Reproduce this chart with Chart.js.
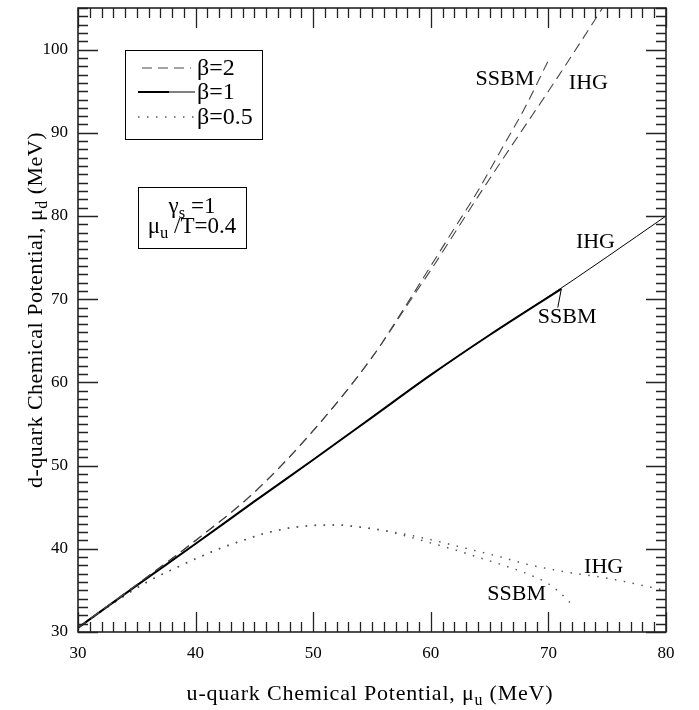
<!DOCTYPE html>
<html>
<head>
<meta charset="utf-8">
<script src="https://cdn.jsdelivr.net/npm/chart.js@4"></script>
<style>
  body { margin: 0; background: #fff; }
  canvas { display: block; }
</style>
</head>
<body>
<canvas id="myChart" width="699" height="710"></canvas>
<script>
// beta = 2 (dashed)
const b2IhgX = [30, 35, 40, 45, 50, 55, 58, 60, 62, 64, 66, 68, 70, 72, 74.6];
const b2IhgY = [30.5, 35.7, 41.0, 46.8, 54.2, 63.0, 69.3, 73.5, 77.9, 82.3, 86.6, 90.8, 95.0, 99.3, 105];
const b2SsbmX = [30, 35, 40, 45, 50, 55, 58, 60, 62, 64, 66, 68, 70.1];
const b2SsbmY = [30.5, 35.7, 41.0, 46.8, 54.2, 63.0, 69.5, 74.0, 78.5, 83.0, 88.0, 93.0, 99.0];

// beta = 1 (solid)
const b1IhgX = [30, 35, 40, 45, 50, 55, 60, 65, 70, 75, 80];
const b1IhgY = [30.5, 35.6, 40.6, 45.7, 50.7, 55.8, 60.9, 65.7, 70.3, 75.1, 80.0];
const b1SsbmX = [30, 35, 40, 45, 50, 55, 60, 65, 71.1];
const b1SsbmY = [30.5, 35.6, 40.6, 45.7, 50.7, 55.8, 60.9, 65.7, 71.25];

// beta = 0.5 (dotted)
const b05IhgX = [30, 32, 34, 36, 38, 40, 42, 44, 46, 48, 50, 52, 54, 56, 58, 60, 62, 64, 66, 68, 70, 72, 74, 76, 78, 80];
const b05IhgY = [30.5, 32.5, 34.4, 36.1, 37.5, 38.8, 40.0, 41.0, 41.9, 42.5, 42.8, 42.85, 42.6, 42.2, 41.7, 41.1, 40.4, 39.7, 39.0, 38.2, 37.6, 37.1, 36.7, 36.2, 35.6, 35.0];
const b05SsbmX = [30, 32, 34, 36, 38, 40, 42, 44, 46, 48, 50, 52, 54, 56, 58, 60, 62, 64, 66, 68, 70, 71, 72];
const b05SsbmY = [30.5, 32.5, 34.4, 36.1, 37.5, 38.8, 40.0, 41.0, 41.9, 42.5, 42.8, 42.85, 42.6, 42.2, 41.5, 40.7, 39.9, 39.0, 38.1, 37.1, 35.8, 34.7, 33.3];

const xTicks = [30, 40, 50, 60, 70, 80];
const yTicks = [30, 40, 50, 60, 70, 80, 90, 100];
const legendLabels = ["β=2", "β=1", "β=0.5"];

// curve labels, placed in data coordinates
const curveLabels = [
  { text: "SSBM", x: 66.3, y: 96.4 },
  { text: "IHG", x: 73.4, y: 95.9 },
  { text: "IHG", x: 74.0, y: 76.9 },
  { text: "SSBM", x: 71.6, y: 67.8 },
  { text: "IHG", x: 74.7, y: 37.8 },
  { text: "SSBM", x: 67.3, y: 34.5 }
];

const SERIF = '"Liberation Serif", "Times New Roman", serif';

function pts(xs, ys) {
  return xs.map((x, i) => ({ x: x, y: ys[i] }));
}

function drawRich(ctx, parts, x, y, size, align, spacing) {
  const subSize = size * 0.72;
  ctx.letterSpacing = (spacing || 0) + "px";
  let w = 0;
  parts.forEach(p => {
    ctx.font = (p[1] ? subSize : size) + "px " + SERIF;
    w += ctx.measureText(p[0]).width;
  });
  let cx = align === "center" ? x - w / 2 : x;
  parts.forEach(p => {
    ctx.font = (p[1] ? subSize : size) + "px " + SERIF;
    ctx.fillText(p[0], cx, p[1] ? y + size * 0.22 : y);
    cx += ctx.measureText(p[0]).width;
  });
  ctx.letterSpacing = "0px";
}

// box, inward ticks on all four sides, legend and labels
const frame = {
  id: "frame",
  afterDraw(chart) {
    const ctx = chart.ctx;
    const a = chart.chartArea;
    const xs = chart.scales.x, ys = chart.scales.y;
    ctx.save();
    ctx.strokeStyle = "#222";
    ctx.lineWidth = 1.3;
    ctx.beginPath();
    for (let v = 30; v <= 80; v++) {
      const len = v % 10 === 0 ? 20 : 10;
      const px = Math.round(xs.getPixelForValue(v)) + 0.5;
      ctx.moveTo(px, a.bottom); ctx.lineTo(px, a.bottom - len);
      ctx.moveTo(px, a.top); ctx.lineTo(px, a.top + len);
    }
    for (let v = 30; v <= 105; v++) {
      const len = v % 10 === 0 ? 20 : 10;
      const py = Math.round(ys.getPixelForValue(v)) + 0.5;
      ctx.moveTo(a.left, py); ctx.lineTo(a.left + len, py);
      ctx.moveTo(a.right, py); ctx.lineTo(a.right - len, py);
    }
    ctx.stroke();
    ctx.lineWidth = 1.6;
    ctx.strokeRect(a.left, a.top, a.right - a.left, a.bottom - a.top);

    // legend box
    ctx.fillStyle = "#000";
    ctx.strokeStyle = "#000";
    ctx.lineWidth = 1;
    ctx.strokeRect(a.left + 47.5, a.top + 42.5, 137, 89);
    const lx0 = a.left + 60, lx1 = a.left + 117;
    const rows = [a.top + 60, a.top + 84, a.top + 109];
    // dashed
    ctx.strokeStyle = "#444";
    ctx.setLineDash([10, 6]);
    ctx.beginPath(); ctx.moveTo(lx0 + 4, rows[0]); ctx.lineTo(lx1 - 4, rows[0]); ctx.stroke();
    // solid: thick part then thin part
    ctx.setLineDash([]);
    ctx.strokeStyle = "#000";
    ctx.lineWidth = 2;
    ctx.beginPath(); ctx.moveTo(lx0, rows[1]); ctx.lineTo(lx0 + 31, rows[1]); ctx.stroke();
    ctx.lineWidth = 1;
    ctx.beginPath(); ctx.moveTo(lx0 + 31, rows[1]); ctx.lineTo(lx1, rows[1]); ctx.stroke();
    // dotted
    ctx.strokeStyle = "#555";
    ctx.lineWidth = 1.5;
    ctx.setLineDash([1.5, 7.5]);
    ctx.beginPath(); ctx.moveTo(lx0, rows[2]); ctx.lineTo(lx1, rows[2]); ctx.stroke();
    ctx.setLineDash([]);
    ctx.font = "24px " + SERIF;
    ctx.textAlign = "left";
    ctx.textBaseline = "alphabetic";
    legendLabels.forEach((t, i) => ctx.fillText(t, lx1 + 2, rows[i] + 7));

    // parameter box
    ctx.lineWidth = 1;
    ctx.strokeStyle = "#000";
    ctx.strokeRect(a.left + 60.5, a.top + 179.5, 108, 61);
    const bx = a.left + 114;
    drawRich(ctx, [["γ", false], ["s", true], [" =1", false]], bx, a.top + 205, 23, "center");
    drawRich(ctx, [["μ", false], ["u", true], [" /T=0.4", false]], bx, a.top + 225, 23, "center");

    // curve labels
    ctx.font = "22px " + SERIF;
    ctx.textAlign = "center";
    ctx.textBaseline = "middle";
    curveLabels.forEach(l => {
      ctx.fillText(l.text, xs.getPixelForValue(l.x), ys.getPixelForValue(l.y));
    });
    // leader from SSBM label to end of beta=1 SSBM curve
    ctx.beginPath();
    ctx.moveTo(xs.getPixelForValue(b1SsbmX[b1SsbmX.length - 1]), ys.getPixelForValue(b1SsbmY[b1SsbmY.length - 1]));
    ctx.lineTo(xs.getPixelForValue(70.8), ys.getPixelForValue(69.0));
    ctx.stroke();

    // axis titles
    ctx.textAlign = "left";
    ctx.textBaseline = "alphabetic";
    drawRich(ctx, [["u-quark Chemical Potential, μ", false], ["u", true], [" (MeV)", false]],
      370, 700, 22, "center", 0.8);
    ctx.save();
    ctx.translate(42, 310);
    ctx.rotate(-Math.PI / 2);
    drawRich(ctx, [["d-quark Chemical Potential, μ", false], ["d", true], [" (MeV)", false]], 0, 0, 22, "center", 0.5);
    ctx.restore();
    ctx.restore();
  }
};

const ctx = document.getElementById("myChart").getContext("2d");
const chart = new Chart(ctx, {
  type: "line",
  data: {
    datasets: [
      { label: "β=2 IHG", data: pts(b2IhgX, b2IhgY), borderColor: "#444", borderWidth: 1.1, borderDash: [10, 6] },
      { label: "β=2 SSBM", data: pts(b2SsbmX, b2SsbmY), borderColor: "#444", borderWidth: 1.1, borderDash: [10, 6] },
      { label: "β=1 IHG", data: pts(b1IhgX, b1IhgY), borderColor: "#000", borderWidth: 1 },
      { label: "β=1 SSBM", data: pts(b1SsbmX, b1SsbmY), borderColor: "#000", borderWidth: 2 },
      { label: "β=0.5 IHG", data: pts(b05IhgX, b05IhgY), borderColor: "#555", borderWidth: 1.5, borderDash: [1.5, 7.5] },
      { label: "β=0.5 SSBM", data: pts(b05SsbmX, b05SsbmY), borderColor: "#555", borderWidth: 1.5, borderDash: [1.5, 7.5] }
    ]
  },
  options: {
    responsive: false,
    animation: false,
    devicePixelRatio: 1,
    layout: { padding: { top: 8, right: 33, left: 0, bottom: 0 } },
    elements: {
      point: { radius: 0 },
      line: { cubicInterpolationMode: "monotone", fill: false }
    },
    plugins: { legend: { display: false }, tooltip: { enabled: false } },
    scales: {
      x: {
        type: "linear", min: 30, max: 80,
        grid: { display: false, drawTicks: false },
        border: { display: false },
        afterBuildTicks: s => { s.ticks = xTicks.map(v => ({ value: v })); },
        afterFit: s => { s.height = 78; s.paddingLeft = 0; s.paddingRight = 0; },
        ticks: { padding: 11, color: "#000", maxRotation: 0, font: { family: SERIF, size: 17 } }
      },
      y: {
        type: "linear", min: 30, max: 105,
        grid: { display: false, drawTicks: false },
        border: { display: false },
        afterBuildTicks: s => { s.ticks = yTicks.map(v => ({ value: v })); },
        afterFit: s => { s.width = 78; s.paddingTop = 0; s.paddingBottom = 0; },
        ticks: { padding: 10, color: "#000", font: { family: SERIF, size: 17 } }
      }
    }
  },
  plugins: [frame]
});
</script>
</body>
</html>
